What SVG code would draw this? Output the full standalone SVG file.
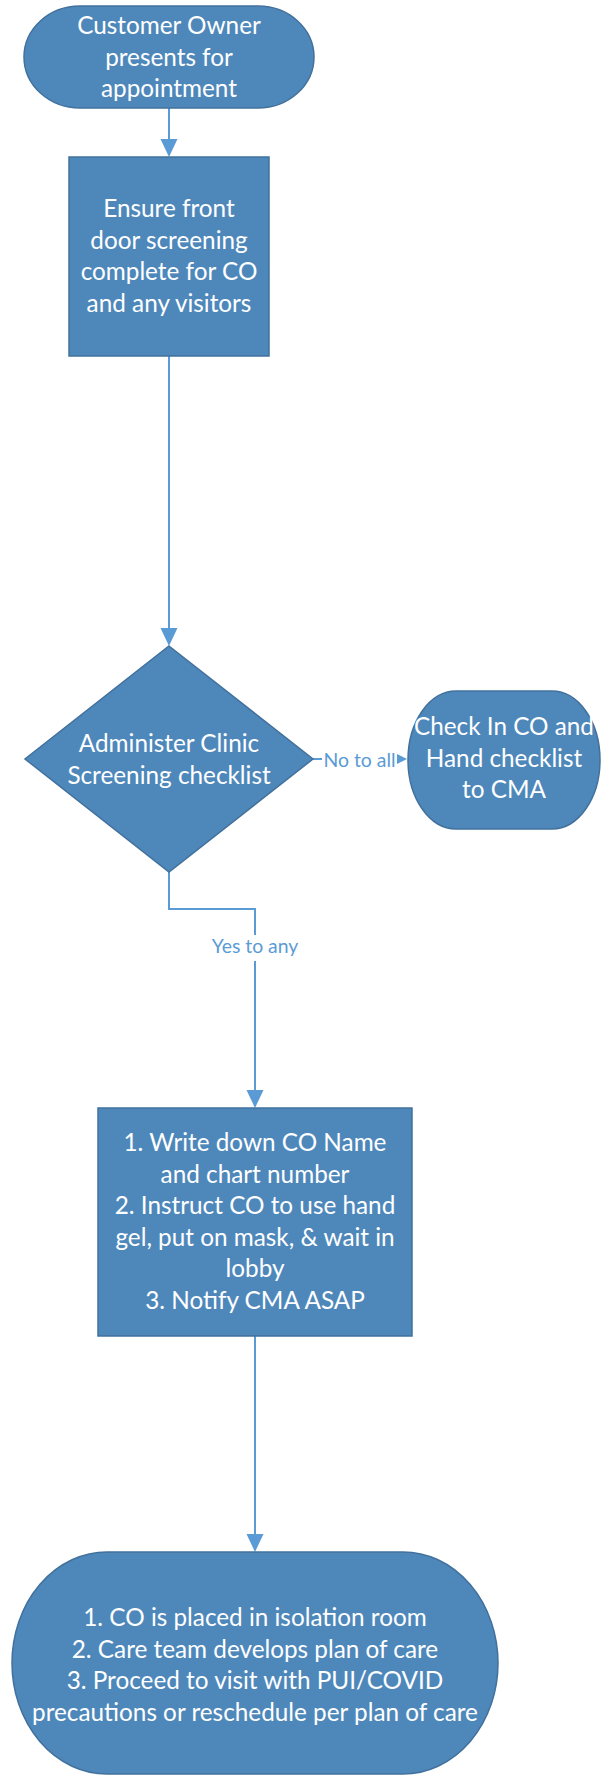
<svg xmlns="http://www.w3.org/2000/svg" width="613" height="1775" viewBox="0 0 613 1775">
<style>
.shape{fill:#4E88BB;stroke:#41719C;stroke-width:1.5}
.t{font-family:Lato,"Liberation Sans",sans-serif;font-size:24.3px;fill:#FFFFFF;text-anchor:middle}
.conn{fill:none;stroke:#5B9BD5;stroke-width:2}
.lbl{font-family:Lato,"Liberation Sans",sans-serif;font-size:19.4px;fill:#5B9BD5;text-anchor:middle}
</style>
<defs>
<marker id="arr" markerUnits="userSpaceOnUse" markerWidth="18" markerHeight="18" refX="0" refY="8.5" orient="auto">
<path d="M0,0 L18,8.5 L0,17 Z" fill="#5B9BD5"/>
</marker>
<marker id="arrS" markerUnits="userSpaceOnUse" markerWidth="11" markerHeight="11" refX="0" refY="5" orient="auto">
<path d="M0,0 L10,5 L0,10 Z" fill="#5B9BD5"/>
</marker>
</defs>
<g id="connectors">
<path class="conn" d="M169,108 V139" marker-end="url(#arr)"/>
<path class="conn" d="M169,356 V628" marker-end="url(#arr)"/>
<path class="conn" d="M313,759 H397" marker-end="url(#arrS)"/>
<rect x="322" y="746" width="75" height="26" fill="#FFFFFF"/>
<text class="lbl" x="359.5" y="767">No to all</text>
<path class="conn" d="M169,872 V909 H255 V1090" marker-end="url(#arr)"/>
<rect x="205" y="935" width="100" height="26" fill="#FFFFFF"/>
<text class="lbl" x="255" y="953">Yes to any</text>
<path class="conn" d="M255,1336 V1534" marker-end="url(#arr)"/>
</g>
<g id="start">
<rect class="shape" x="24" y="6" width="290" height="102" rx="56" ry="51"/>
<text class="t" x="169" y="34">Customer Owner</text>
<text class="t" x="169" y="65.5">presents for</text>
<text class="t" x="169" y="97">appointment</text>
</g>
<g id="frontdoor">
<rect class="shape" x="69" y="157" width="200" height="199"/>
<text class="t" x="169" y="217">Ensure front</text>
<text class="t" x="169" y="248.5">door screening</text>
<text class="t" x="169" y="280">complete for CO</text>
<text class="t" x="169" y="311.5">and any visitors</text>
</g>
<g id="decision">
<polygon class="shape" points="169,646 313,759 169,872 25,759"/>
<text class="t" x="169" y="752">Administer Clinic</text>
<text class="t" x="169" y="783.5">Screening checklist</text>
</g>
<g id="checkin">
<rect class="shape" x="408" y="691" width="192" height="138" rx="48" ry="69"/>
<text class="t" x="504" y="735">Check In CO and</text>
<text class="t" x="504" y="766.5">Hand checklist</text>
<text class="t" x="504" y="798">to CMA</text>
</g>
<g id="instruct">
<rect class="shape" x="98" y="1108" width="314" height="228"/>
<text class="t" x="255" y="1151">1. Write down CO Name</text>
<text class="t" x="255" y="1182.5">and chart number</text>
<text class="t" x="255" y="1214">2. Instruct CO to use hand</text>
<text class="t" x="255" y="1245.5">gel, put on mask, &amp; wait in</text>
<text class="t" x="255" y="1277">lobby</text>
<text class="t" x="255" y="1308.5">3. Notify CMA ASAP</text>
</g>
<g id="isolation">
<rect class="shape" x="12" y="1552" width="486" height="222" rx="95" ry="111"/>
<text class="t" x="255" y="1626">1. CO is placed in isolation room</text>
<text class="t" x="255" y="1657.5">2. Care team develops plan of care</text>
<text class="t" x="255" y="1689">3. Proceed to visit with PUI/COVID</text>
<text class="t" x="255" y="1720.5">precautions or reschedule per plan of care</text>
</g>
</svg>
